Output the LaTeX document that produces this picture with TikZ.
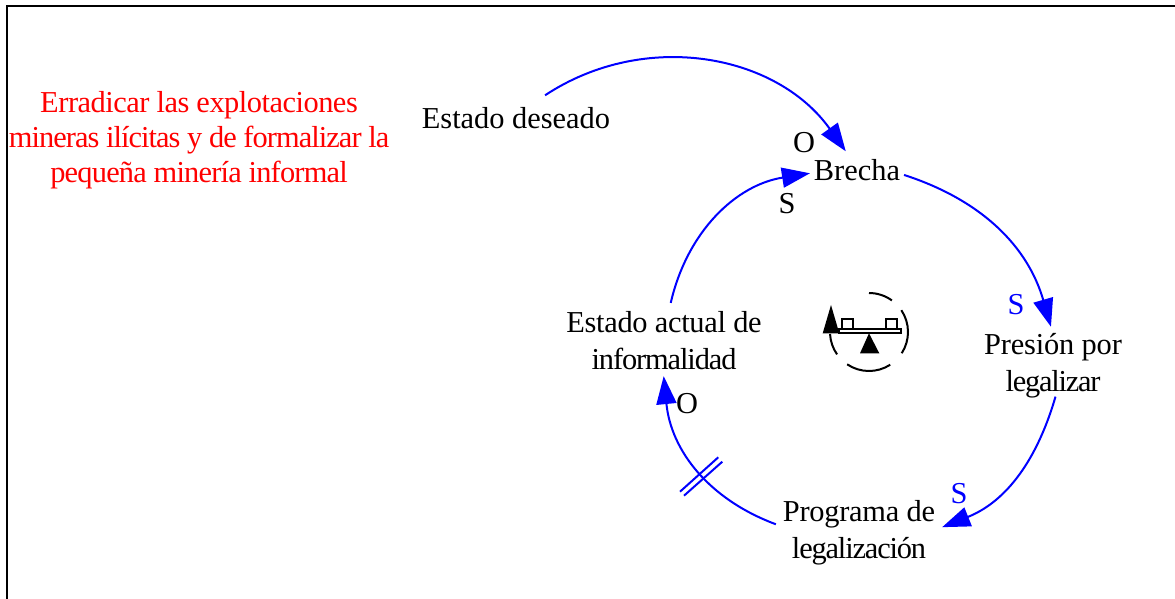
\documentclass[tikz,border=0pt]{standalone}
\usepackage{fontspec}
\setmainfont{Liberation Serif}
\usetikzlibrary{arrows.meta}

\newcommand{\tight}[2]{{\addfontfeature{LetterSpace=#1}#2}}

\tikzset{
  txt/.style={inner sep=0pt, align=center, font=\fontsize{15.2}{18.4}\selectfont},
  redtxt/.style={txt, red, font=\fontsize{15.2}{17.4}\selectfont},
  flow/.style={-{Triangle[length=14pt, width=10pt]}, blue, line width=1pt},
  icon/.style={black, line width=1pt}
}

\begin{document}
\begin{tikzpicture}[x=0.5pt, y=-0.5pt]
  \useasboundingbox (0,0) rectangle (1175,599);
  % frame
  \draw[line width=1pt] (7,599) -- (7,6) -- (1175,6);
  % texts
  \node[redtxt] (meta) at (199,140) {\tight{-1.6}{Erradicar las explotaciones}\\\tight{-3.1}{mineras ilícitas y de formalizar la}\\\tight{-2.6}{pequeña minería informal}};
  \node[txt, outer ysep=6pt] (deseado) at (516,118) {Estado deseado};
  \node[txt, outer xsep=2pt, outer ysep=4pt] (brecha) at (857,170) {Brecha};
  \node[txt, outer ysep=3.5pt] (presion) at (1053,366) {\tight{-0.6}{Presión por}\\\tight{-4}{legalizar}};
  \node[txt, outer xsep=3.5pt] (programa) at (859,533) {\tight{-0.8}{Programa de}\\\tight{-3.8}{legalización}};
  \node[txt, outer ysep=4.5pt] (actual) at (664,341) {\tight{-1}{Estado actual de}\\\tight{-3.6}{informalidad}};
  % polarities
  \node[txt] (polO) at (804,143) {O};
  \node[txt] (polS) at (787,204) {S};
  \node[txt, blue] (polPresion) at (1016,305) {S};
  \node[txt, blue] (polPrograma) at (959,494) {S};
  \node[txt] (polActual) at (687,404) {O};
  % links
  \draw[flow] (deseado.38) to[bend left=44] (brecha.121);
  \draw[flow] (brecha.-6) to[bend left=28] (presion.93);
  \draw[flow, shorten <=-4.5pt] (presion.south) to[bend left=26] (programa.4);
  \draw[flow, shorten >=-1.5pt] (programa.174) to[bend left=32] (actual.south);
  \draw[flow] (actual.80) to[bend left=34] (brecha.184);
  % delay
  \draw[blue, line width=1pt] (680,491.7) -- (718.3,457.3);
  \draw[blue, line width=1pt] (684,495.7) -- (722.3,461.7);
  % balance
  \draw[icon] (869,293) arc[start angle=90, end angle=54, radius=19.5pt];
  \draw[icon] (869,332) ++(34:19.5pt) arc[start angle=34, end angle=-33, radius=19.5pt];
  \draw[icon] (869,332) ++(-57:19.5pt) arc[start angle=-57, end angle=-124, radius=19.5pt];
  \draw[icon] (869,332) ++(-145:19.5pt) arc[start angle=-145, end angle=-177, radius=19.5pt];
  \fill (831,305) -- (839.3,333.3) -- (822.7,333.3) -- cycle;
  \draw[icon, fill=white] (839.3,329.3) rectangle (900.7,333.3);
  \draw[icon, fill=white] (842.3,319.3) rectangle (853.3,329.3);
  \draw[icon, fill=white] (885.7,319.3) rectangle (896.7,329.3);
  \fill (869,333.3) -- (879.3,353.3) -- (860,353.3) -- cycle;
\end{tikzpicture}
\end{document}
